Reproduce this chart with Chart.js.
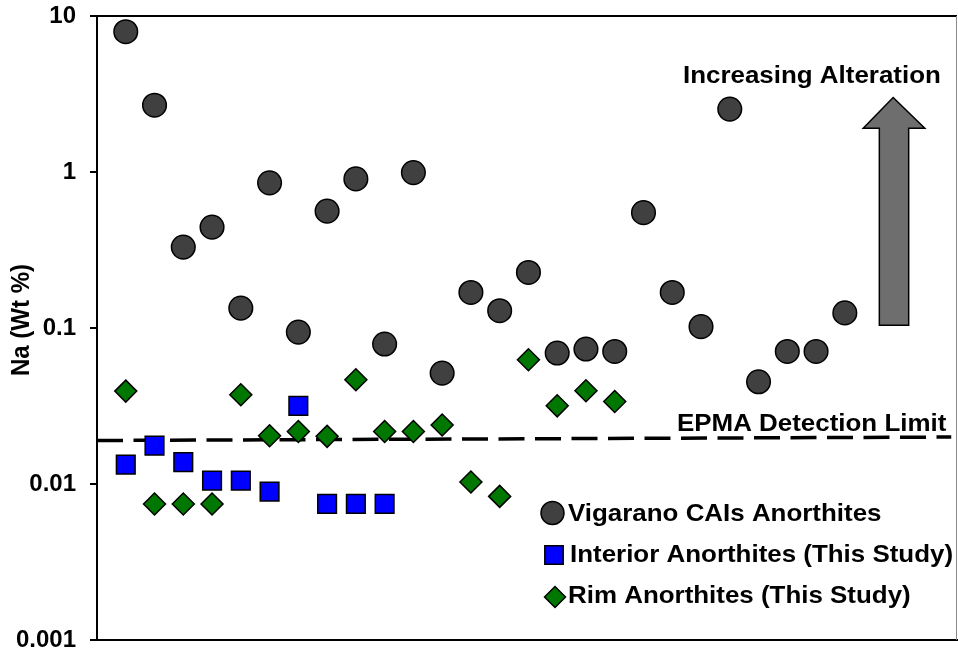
<!DOCTYPE html>
<html lang="en">
<head>
  <meta charset="UTF-8">
  <title>Na in Vigarano anorthites</title>
  <script src="https://cdn.jsdelivr.net/npm/chart.js@4.4.1/dist/chart.umd.min.js"></script>
  <style>
    html, body { margin: 0; padding: 0; background: #fff; }
    .wrap { position: relative; width: 958px; height: 654px; }
  </style>
</head>
<body>
  <div class="wrap"><canvas id="na-chart"></canvas></div>
  <script>
    // analysis number along x, Na in wt % along y
    const vigaranoX = [1, 2, 3, 4, 5, 6, 7, 8, 9, 10, 11, 12, 13, 14, 15, 16, 17, 18, 19, 20, 21, 22, 23, 24, 25, 26];
    const vigaranoNa = [7.93, 2.68, 0.33, 0.443, 0.134, 0.852, 0.0941, 0.561, 0.903, 0.0789, 0.991, 0.0514, 0.169,
      0.129, 0.227, 0.0691, 0.0733, 0.0707, 0.549, 0.169, 0.102, 2.53, 0.0452, 0.0707, 0.0707, 0.125];

    const interiorX = [1, 2, 3, 4, 5, 6, 7, 8, 9, 10];
    const interiorNa = [0.0133, 0.0176, 0.0138, 0.0105, 0.0105, 0.00893, 0.0317, 0.00745, 0.00745, 0.00745];

    const rimX = [1, 2, 3, 4, 5, 6, 7, 8, 9, 10, 11, 12, 13, 14, 15, 16, 17, 18];
    const rimNa = [0.0394, 0.00745, 0.00745, 0.00745, 0.0373, 0.0204, 0.0217, 0.0202, 0.0466, 0.0217, 0.0217,
      0.0239, 0.0103, 0.00833, 0.0626, 0.0317, 0.0396, 0.0338];

    // EPMA detection limit, drawn as a dashed line
    const limitX = [0, 29.7];
    const limitNa = [0.0190, 0.0200];

    const yTicks = [0.001, 0.01, 0.1, 1, 10];
    const yTickLabels = ['0.001', '0.01', '0.1', '1', '10'];

    const seriesNames = ['Vigarano CAIs Anorthites', 'Interior Anorthites (This Study)', 'Rim Anorthites (This Study)'];

    const FONT = "'Liberation Sans', Arial, Helvetica, sans-serif";

    function toPoints(xs, ys) {
      return xs.map((x, i) => ({ x: x, y: ys[i] }));
    }

    // bold text, slightly widened like the rest of the figure
    function wideText(ctx, text, x, y, size) {
      ctx.save();
      ctx.font = 'bold ' + size + 'px ' + FONT;
      ctx.fillStyle = '#000';
      ctx.textBaseline = 'alphabetic';
      ctx.translate(x, y);
      ctx.scale(1.08, 1);
      ctx.fillText(text, 0, 0);
      ctx.restore();
    }

    const extras = {
      id: 'extras',
      afterDraw(chart) {
        const ctx = chart.ctx;
        const area = chart.chartArea;
        const xs = chart.scales.x;
        const ys = chart.scales.y;

        // frame: black top edge, thin grey right edge
        ctx.save();
        ctx.strokeStyle = '#000';
        ctx.lineWidth = 2;
        ctx.beginPath();
        ctx.moveTo(area.left, area.top);
        ctx.lineTo(area.right, area.top);
        ctx.stroke();
        ctx.strokeStyle = '#8a8a8a';
        ctx.lineWidth = 1;
        ctx.beginPath();
        ctx.moveTo(area.right - 0.5, area.top);
        ctx.lineTo(area.right - 0.5, area.bottom);
        ctx.stroke();
        ctx.restore();

        // y axis title
        ctx.save();
        ctx.translate(22, 320);
        ctx.rotate(-Math.PI / 2);
        ctx.scale(1, 1.1);
        ctx.font = 'bold 24px ' + FONT;
        ctx.fillStyle = '#000';
        ctx.textAlign = 'center';
        ctx.textBaseline = 'middle';
        ctx.fillText('Na (Wt %)', 0, 0);
        ctx.restore();

        // "increasing alteration" arrow
        const sl = xs.getPixelForValue(27.2), sr = xs.getPixelForValue(28.22);
        const hl = xs.getPixelForValue(26.64), hr = xs.getPixelForValue(28.78);
        const tx = xs.getPixelForValue(27.68);
        const yTip = ys.getPixelForValue(3.0), yBase = ys.getPixelForValue(1.91), yEnd = ys.getPixelForValue(0.104);
        ctx.save();
        ctx.beginPath();
        ctx.moveTo(tx, yTip);
        ctx.lineTo(hr, yBase);
        ctx.lineTo(sr, yBase);
        ctx.lineTo(sr, yEnd);
        ctx.lineTo(sl, yEnd);
        ctx.lineTo(sl, yBase);
        ctx.lineTo(hl, yBase);
        ctx.closePath();
        ctx.fillStyle = '#6e6e6e';
        ctx.fill();
        ctx.strokeStyle = '#000';
        ctx.lineWidth = 1.5;
        ctx.stroke();
        ctx.restore();

        wideText(ctx, 'Increasing Alteration', 683, 83, 24);
        wideText(ctx, 'EPMA Detection Limit', 677, 431, 24);

        // legend, inside the plot at the lower right
        const rows = [
          { x: 552.5, y: 513, r: 11.5, text: 568, base: 521 },
          { x: 554, y: 555, r: 13, text: 570, base: 562 },
          { x: 555, y: 597, r: 10.5, text: 568, base: 603 }
        ];
        rows.forEach((row, i) => {
          const ds = chart.data.datasets[i];
          ctx.save();
          ctx.fillStyle = ds.backgroundColor;
          ctx.strokeStyle = ds.borderColor;
          ctx.lineWidth = ds.borderWidth;
          Chart.helpers.drawPoint(ctx, { pointStyle: ds.pointStyle, radius: row.r, rotation: 0, borderWidth: ds.borderWidth }, row.x, row.y);
          ctx.restore();
          wideText(ctx, seriesNames[i], row.text, row.base, 24);
        });
      }
    };

    new Chart(document.getElementById('na-chart'), {
      type: 'scatter',
      data: {
        datasets: [
          {
            label: seriesNames[0],
            data: toPoints(vigaranoX, vigaranoNa),
            pointStyle: 'circle',
            pointRadius: 11.8,
            backgroundColor: '#404040',
            borderColor: '#000',
            borderWidth: 1.5
          },
          {
            label: seriesNames[1],
            data: toPoints(interiorX, interiorNa),
            pointStyle: 'rect',
            pointRadius: 13.2,
            backgroundColor: '#0000ff',
            borderColor: '#000',
            borderWidth: 1.5
          },
          {
            label: seriesNames[2],
            data: toPoints(rimX, rimNa),
            pointStyle: 'rectRot',
            pointRadius: 11,
            backgroundColor: '#007700',
            borderColor: '#000',
            borderWidth: 1.5
          },
          {
            label: 'EPMA Detection Limit',
            type: 'line',
            data: toPoints(limitX, limitNa),
            showLine: true,
            pointRadius: 0,
            borderColor: '#000',
            borderWidth: 3.5,
            borderDash: [26, 10.5],
            fill: false
          }
        ]
      },
      options: {
        responsive: true,
        maintainAspectRatio: false,
        animation: false,
        layout: { autoPadding: false, padding: { left: 0, top: 16, right: 1, bottom: 0 } },
        plugins: {
          legend: { display: false },
          tooltip: { enabled: false }
        },
        scales: {
          x: {
            type: 'linear',
            min: 0,
            max: 29.9,
            ticks: { display: false },
            grid: { display: false },
            border: { display: true, color: '#000', width: 2 },
            afterFit: (scale) => { scale.height = 14; }
          },
          y: {
            type: 'logarithmic',
            min: 0.001,
            max: 10,
            afterBuildTicks: (scale) => { scale.ticks = yTicks.map(v => ({ value: v })); },
            afterFit: (scale) => {
              scale.width = 97;
              // the end labels may sit in the outer margins
              scale.paddingTop = 0;
              scale.paddingBottom = 0;
            },
            ticks: {
              autoSkip: false,
              padding: 14,
              color: '#000',
              font: { family: FONT, size: 24, weight: 'bold' },
              callback: (value, index) => yTickLabels[index]
            },
            grid: { drawOnChartArea: false, drawTicks: true, tickLength: 7, color: '#000', lineWidth: 2 },
            border: { display: true, color: '#000', width: 2 }
          }
        }
      },
      plugins: [extras]
    });
  </script>
</body>
</html>
